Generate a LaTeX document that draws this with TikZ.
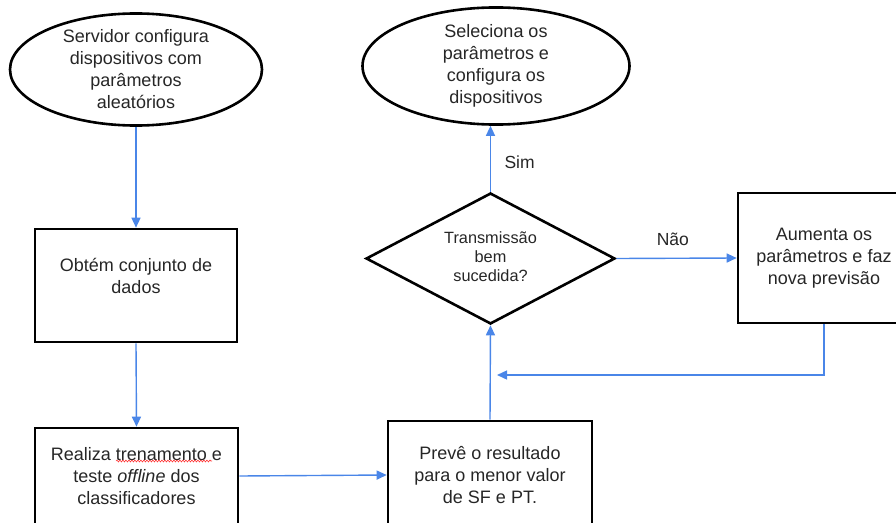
\documentclass[tikz,border=0pt]{standalone}
\usepackage{fontspec}
\setmainfont{Liberation Sans}
\usetikzlibrary{shapes.geometric,arrows.meta,decorations.pathmorphing}
\definecolor{conn}{HTML}{4A86E8}
\begin{document}
\begin{tikzpicture}[x=1pt,y=-1pt,
  every node/.style={font=\fontsize{18}{22}\selectfont, align=center, text=black!85},
  shapeline/.style={draw=black, line width=2.6pt},
  oval/.style={shapeline, ellipse, inner sep=0pt},
  stepbox/.style={shapeline, rectangle, inner sep=0pt},
  decision/.style={shapeline, diamond, inner sep=0pt, aspect=1.9, font=\fontsize{16.3}{19}\selectfont},
  conn/.style={draw=conn, line width=1.4pt, -{Triangle[length=10pt,width=9pt]}},
  lbl/.style={font=\fontsize{17.5}{20}\selectfont}]
\useasboundingbox (0,0) rectangle (896,522);

\node[oval, minimum width=252, minimum height=103] (e1) at (136,69.5)
  {Servidor configura\\dispositivos com\\parâmetros\\aleatórios};
\node[oval, minimum width=267, minimum height=108] (e2) at (496,66)
  {Seleciona os\\parâmetros e\\configura os\\dispositivos};
\node[stepbox, minimum width=202, minimum height=113] (b1) at (136,285.5)
  {Obtém conjunto de\\dados\\[-2pt]\mbox{}};
\node[stepbox, minimum width=203, minimum height=96] (b2) at (136.5,476)
  {Realiza trenamento e\\teste \textit{offline} dos\\classificadores};
\node[stepbox, minimum width=204, minimum height=108] (b3) at (490,475)
  {Prevê o resultado\\para o menor valor\\de SF e PT.};
\node[decision, minimum width=249, minimum height=131] (d) at (490.5,258.5)
  {\begin{tabular}{@{}c@{}}Transmissão\\bem\\sucedida?\end{tabular}};
\node[stepbox, minimum width=172, minimum height=130] (b4) at (824,258)
  {Aumenta os\\parâmetros e faz\\nova previsão};

\coordinate (back) at (497,375);

\draw[conn] (e1.south) -- (b1.north);
\draw[conn] (b1.south) -- (b2.north);
\draw[conn] (b2.east) -- (b3.west);
\draw[conn] (b3.north) -- (d.south);
\draw[conn] (d.north) -- (d.north |- e2.south) node[lbl, pos=0.45, right=10pt] (sim) {Sim};
\draw[conn] (d.east) -- (b4.west) node[lbl, pos=0.47, above=9pt] (nao) {Não};
\draw[conn] (b4.south) |- (back);

\draw[red!80, line width=0.6pt, decorate, decoration={snake, amplitude=0.9pt, segment length=3pt}]
  (116,461) -- (212,461);
\end{tikzpicture}
\end{document}
